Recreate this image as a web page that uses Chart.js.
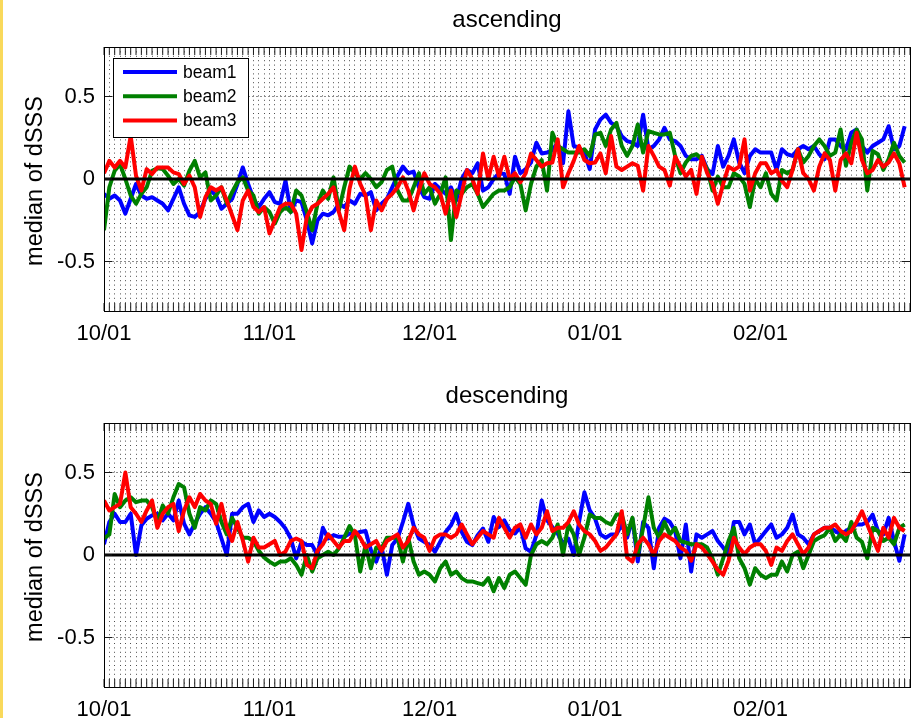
<!DOCTYPE html>
<html>
<head>
<meta charset="utf-8">
<script src="https://cdn.jsdelivr.net/npm/chart.js@4.4.0/dist/chart.umd.min.js"></script>
<style>
  html, body { margin: 0; padding: 0; background: #fff; }
  body { width: 912px; height: 718px; overflow: hidden; position: relative; }
  canvas { position: absolute; left: 0; }
  #ascCanvas { top: 0; }
  #descCanvas { top: 376px; }
  #strip { position: absolute; left: 0; top: 0; width: 3px; height: 718px; background: #f9d95b; }
</style>
</head>
<body>
<canvas id="ascCanvas" width="920" height="376"></canvas>
<canvas id="descCanvas" width="920" height="376"></canvas>
<div id="strip"></div>
<script>
// days counted from 10/01, axis runs to 03/01
const dayCount = 151;
const monthTicks = [0, 31, 61, 92, 123];
const monthLabels = ['10/01', '11/01', '12/01', '01/01', '02/01'];
const yTicks = [-0.5, 0, 0.5];
const seriesNames = ['beam1', 'beam2', 'beam3'];
const seriesColors = ['#0000ff', '#008000', '#ff0000'];

// ascending, daily median of dSSS
const ascBeam1 = [
  -0.09, -0.12, -0.10, -0.13, -0.21, -0.12, -0.03, -0.10, -0.12, -0.11,
  -0.13, -0.15, -0.19, -0.12, -0.05, -0.15, -0.22, -0.23, -0.20, -0.12,
  -0.07, -0.10, -0.18, -0.15, -0.12, -0.03, 0.07, -0.03, -0.12, -0.17,
  -0.12, -0.08, -0.14, -0.15, -0.01, -0.20, -0.13, -0.14, -0.25, -0.39,
  -0.25, -0.21, -0.22, -0.20, -0.15, -0.17, -0.13, -0.15, -0.09, -0.10,
  -0.08, -0.19, -0.15, -0.12, -0.05, 0.02, 0.075, 0.035, 0.045, -0.05,
  -0.11, -0.12, -0.03, -0.06, -0.09, -0.05, -0.13, 0.00, 0.055, 0.035,
  0.095, -0.07, -0.05, 0.00, 0.035, 0.03, -0.09, 0.135, 0.035, 0.06,
  0.10, 0.22, 0.155, 0.16, 0.175, 0.22, 0.095, 0.41, 0.20, 0.19,
  0.16, 0.06, 0.30, 0.36, 0.39, 0.34, 0.32, 0.26, 0.23, 0.22,
  0.20, 0.39, 0.18, 0.20, 0.24, 0.31, 0.24, 0.23, 0.20, 0.14,
  0.12, 0.12, 0.14, 0.06, 0.03, 0.20, 0.075, 0.14, 0.24, 0.10,
  0.035, 0.14, 0.18, 0.16, 0.16, 0.16, 0.055, 0.18, 0.15, 0.14,
  0.18, 0.20, 0.18, 0.20, 0.15, 0.12, 0.24, 0.24, 0.20, 0.18,
  0.28, 0.30, 0.20, 0.16, 0.20, 0.22, 0.24, 0.32, 0.18, 0.20, 0.32
];
const ascBeam2 = [
  -0.31, -0.05, 0.05, 0.09, 0.00, -0.10, -0.15, -0.09, -0.05, 0.05,
  0.065, 0.06, 0.02, -0.03, 0.00, -0.04, 0.05, 0.11, 0.01, 0.04,
  -0.13, -0.10, -0.05, -0.15, -0.08, -0.02, 0.01, -0.07, -0.10, -0.21,
  -0.17, -0.20, -0.27, -0.20, -0.17, -0.20, -0.07, -0.10, -0.20, -0.31,
  -0.15, -0.07, -0.12, 0.01, -0.19, -0.05, 0.075, 0.035, 0.00, 0.035,
  0.00, -0.05, -0.02, 0.055, 0.075, -0.07, -0.13, -0.13, -0.05, 0.035,
  -0.09, -0.05, -0.15, -0.09, 0.01, -0.37, -0.07, -0.09, -0.05, -0.03,
  -0.09, -0.17, -0.13, -0.09, -0.07, -0.07, -0.05, 0.01, -0.03, -0.19,
  -0.03, 0.075, 0.115, -0.07, 0.28, 0.20, 0.18, 0.16, 0.16, 0.16,
  0.18, 0.14, 0.27, 0.28, 0.20, 0.30, 0.34, 0.20, 0.14, 0.20,
  0.33, 0.16, 0.29, 0.28, 0.27, 0.27, 0.28, 0.14, 0.035, 0.10,
  0.14, 0.15, 0.12, 0.06, -0.07, 0.015, -0.05, -0.05, 0.035, 0.015,
  -0.03, -0.17, 0.00, -0.05, 0.035, -0.09, -0.13, 0.055, 0.035, 0.055,
  0.18, 0.10, 0.14, 0.20, 0.24, 0.20, 0.14, 0.16, 0.30, 0.08,
  0.22, 0.30, 0.24, -0.07, 0.17, 0.15, 0.055, 0.12, 0.22, 0.14, 0.10
];
const ascBeam3 = [
  0.035, 0.11, 0.07, 0.11, 0.07, 0.26, 0.02, -0.07, 0.06, 0.03,
  0.07, 0.07, 0.07, 0.04, 0.03, -0.03, 0.02, -0.05, -0.23, -0.11,
  -0.05, -0.07, -0.05, -0.13, -0.22, -0.31, -0.13, -0.07, -0.17, -0.20,
  -0.17, -0.33, -0.25, -0.17, -0.15, -0.15, -0.21, -0.43, -0.23, -0.17,
  -0.15, -0.12, -0.09, -0.05, -0.20, -0.31, -0.06, 0.075, -0.03, -0.10,
  -0.31, -0.13, -0.19, -0.12, -0.09, -0.05, 0.01, -0.07, -0.19, -0.07,
  0.035, -0.03, -0.05, -0.09, -0.21, -0.07, -0.23, -0.09, 0.055, 0.00,
  -0.09, 0.155, 0.00, 0.135, 0.015, 0.135, 0.00, 0.035, -0.02, 0.035,
  0.155, 0.115, 0.075, 0.095, 0.10, 0.24, -0.05, 0.035, 0.11, 0.20,
  0.115, 0.095, 0.10, 0.155, 0.035, 0.26, 0.075, 0.055, 0.075, 0.095,
  0.08, -0.07, 0.20, 0.14, 0.075, 0.055, -0.04, 0.135, 0.075, 0.015,
  0.055, -0.09, 0.135, 0.035, -0.03, -0.15, -0.03, 0.075, 0.055, 0.075,
  0.24, -0.07, 0.035, 0.095, 0.095, 0.035, 0.055, -0.01, -0.05, 0.055,
  0.18, 0.035, 0.00, -0.07, 0.075, 0.155, 0.115, -0.07, 0.115, 0.155,
  0.095, 0.28, 0.115, 0.035, 0.055, 0.115, 0.075, 0.10, 0.155, 0.095, -0.05
];

// descending
const descBeam1 = [
  0.065, 0.20, 0.25, 0.20, 0.20, 0.25, 0.00, 0.18, 0.22, 0.24,
  0.25, 0.21, 0.25, 0.21, 0.33, 0.19, 0.125, 0.19, 0.25, 0.29,
  0.25, 0.20, 0.10, 0.00, 0.25, 0.25, 0.29, 0.31, 0.20, 0.27,
  0.23, 0.25, 0.23, 0.20, 0.16, 0.10, -0.02, 0.08, 0.06, 0.06,
  0.00, 0.165, 0.10, 0.12, 0.11, 0.11, 0.13, 0.13, 0.14, 0.145,
  0.03, -0.04, 0.05, -0.12, 0.06, 0.10, 0.20, 0.31, 0.18, 0.10,
  0.08, 0.06, 0.02, 0.08, 0.14, 0.18, 0.25, 0.14, 0.08, 0.06,
  0.12, 0.16, 0.08, 0.23, 0.17, 0.21, 0.15, 0.13, 0.17, 0.04,
  0.02, 0.12, 0.33, 0.21, 0.17, 0.13, 0.07, 0.10, 0.00, 0.20,
  0.38, 0.27, 0.22, 0.125, 0.105, 0.125, 0.125, 0.185, 0.105, 0.22,
  -0.04, 0.20, 0.165, -0.08, 0.165, 0.22, 0.20, 0.145, -0.02, 0.185,
  -0.10, 0.125, 0.105, 0.125, 0.145, 0.085, 0.045, 0.00, 0.20, 0.20,
  0.125, 0.185, 0.065, 0.105, 0.145, 0.185, 0.105, 0.125, 0.165, 0.245,
  0.125, 0.105, 0.065, 0.125, 0.145, 0.165, 0.165, 0.145, 0.125, 0.145,
  0.165, 0.185, 0.185, 0.20, 0.245, 0.145, 0.125, 0.225, 0.085, -0.035, 0.125
];
const descBeam2 = [
  0.10, 0.125, 0.37, 0.29, 0.33, 0.35, 0.32, 0.33, 0.33, 0.29,
  0.20, 0.30, 0.25, 0.35, 0.43, 0.41, 0.25, 0.165, 0.29, 0.27,
  0.33, 0.31, 0.20, 0.125, 0.225, 0.165, 0.105, 0.105, 0.085, 0.025,
  -0.015, -0.04, -0.06, -0.04, -0.04, -0.02, -0.06, -0.12, 0.00, -0.10,
  -0.02, 0.00, 0.02, 0.00, 0.04, 0.105, 0.175, 0.12, -0.10, 0.06,
  -0.08, 0.045, 0.04, 0.105, 0.105, 0.105, -0.04, 0.105, -0.04, -0.12,
  -0.10, -0.12, -0.16, -0.08, -0.04, -0.12, -0.10, -0.14, -0.16, -0.16,
  -0.17, -0.18, -0.14, -0.22, -0.14, -0.20, -0.12, -0.10, -0.14, -0.18,
  0.00, 0.065, 0.085, 0.065, 0.105, 0.185, 0.00, 0.185, 0.125, 0.00,
  0.105, 0.245, 0.225, 0.225, 0.20, 0.185, 0.245, 0.245, 0.125, 0.225,
  0.00, 0.165, 0.35, 0.165, 0.105, 0.20, 0.125, 0.165, 0.085, 0.075,
  0.065, 0.065, 0.065, 0.045, -0.02, -0.12, -0.02, 0.085, 0.165, -0.02,
  -0.08, -0.18, -0.08, -0.12, -0.14, -0.12, -0.12, -0.04, -0.10, 0.00,
  0.02, -0.08, 0.00, 0.085, 0.105, 0.12, 0.165, 0.085, 0.125, 0.085,
  0.20, 0.105, 0.08, -0.02, 0.165, 0.145, 0.085, 0.105, 0.065, 0.165, 0.185
];
const descBeam3 = [
  0.33, 0.27, 0.29, 0.31, 0.50, 0.29, 0.25, 0.20, 0.27, 0.33,
  0.165, 0.25, 0.29, 0.31, 0.145, 0.27, 0.35, 0.29, 0.37, 0.33,
  0.31, 0.19, 0.31, 0.165, 0.085, 0.20, 0.09, -0.04, 0.105, 0.045,
  0.045, 0.065, 0.085, 0.00, 0.02, 0.085, 0.10, 0.085, -0.06, -0.08,
  0.025, 0.065, 0.125, 0.085, 0.045, 0.085, 0.085, 0.145, 0.105, 0.045,
  0.065, 0.085, 0.025, 0.085, 0.105, 0.125, 0.045, 0.085, 0.165, 0.125,
  0.105, 0.025, 0.105, 0.125, 0.125, 0.105, 0.125, 0.185, 0.125, 0.065,
  0.105, 0.145, 0.125, 0.105, 0.225, 0.165, 0.105, 0.165, 0.185, 0.105,
  0.185, 0.125, 0.165, 0.265, 0.145, 0.165, 0.165, 0.20, 0.265, 0.185,
  0.145, 0.125, 0.085, 0.025, 0.045, 0.085, 0.125, 0.265, -0.015, -0.04,
  0.065, 0.105, 0.065, 0.00, 0.085, 0.125, 0.105, 0.085, 0.045, 0.025,
  -0.035, 0.065, 0.045, 0.005, -0.04, -0.09, -0.12, -0.035, 0.105, 0.045,
  0.005, 0.045, 0.065, 0.065, 0.025, -0.06, 0.045, 0.025, 0.085, 0.125,
  0.065, 0.005, 0.045, 0.125, 0.145, 0.165, 0.165, 0.185, 0.145, 0.125,
  0.145, 0.20, 0.265, 0.185, 0.105, 0.025, 0.165, 0.105, 0.225, 0.165, 0.145
];

const FONT = "'Liberation Sans', Arial, sans-serif";

function toPoints(values) {
  return values.map((v, i) => ({ x: i, y: v }));
}

// axes box, inward ticks, title, y label and legend drawn after the data
const framePlugin = {
  id: 'frame',
  afterDraw(chart, args, opts) {
    const ctx = chart.ctx;
    const { left, right, top, bottom } = chart.chartArea;
    const xs = chart.scales.x;
    const ys = chart.scales.y;
    ctx.save();

    ctx.strokeStyle = '#1a1a1a';
    ctx.lineWidth = 1;
    ctx.beginPath();
    for (let d = 0; d <= dayCount; d++) {
      const px = xs.getPixelForValue(d);
      ctx.moveTo(px, bottom);
      ctx.lineTo(px, bottom - 8);
      ctx.moveTo(px, top);
      ctx.lineTo(px, top + 8);
    }
    yTicks.forEach(v => {
      const py = ys.getPixelForValue(v);
      ctx.moveTo(left, py);
      ctx.lineTo(left + 8, py);
      ctx.moveTo(right, py);
      ctx.lineTo(right - 8, py);
    });
    ctx.stroke();

    ctx.strokeStyle = '#000';
    ctx.strokeRect(left + 0.5, top + 0.5, right - left, bottom - top);

    ctx.fillStyle = '#000';
    ctx.font = '24px ' + FONT;
    ctx.textAlign = 'center';
    ctx.textBaseline = 'alphabetic';
    ctx.fillText(opts.title, (left + right) / 2, top - 20);

    ctx.save();
    ctx.font = '23.5px ' + FONT;
    ctx.translate(42, (top + bottom) / 2 + 2);
    ctx.rotate(-Math.PI / 2);
    ctx.fillText(opts.yLabel, 0, 0);
    ctx.restore();

    if (opts.legend) {
      const items = chart.data.datasets.filter(ds => ds.inLegend);
      const bx = left + 9, by = top + 11;
      ctx.fillStyle = '#fff';
      ctx.fillRect(bx, by, 135, 79);
      ctx.strokeStyle = '#000';
      ctx.lineWidth = 1;
      ctx.strokeRect(bx + 0.5, by + 0.5, 135, 79);
      ctx.font = '17.5px ' + FONT;
      ctx.textAlign = 'left';
      ctx.textBaseline = 'middle';
      items.forEach((ds, k) => {
        const ly = by + 14 + k * 24.3;
        ctx.strokeStyle = ds.borderColor;
        ctx.lineWidth = 4;
        ctx.beginPath();
        ctx.moveTo(bx + 10, ly);
        ctx.lineTo(bx + 64, ly);
        ctx.stroke();
        ctx.fillStyle = '#000';
        ctx.fillText(ds.label, bx + 70, ly + 1);
      });
    }
    ctx.restore();
  }
};

function makeChart(canvasId, title, b1, b2, b3, showLegend) {
  const datasets = [b1, b2, b3].map((vals, k) => ({
    label: seriesNames[k],
    data: toPoints(vals),
    borderColor: seriesColors[k],
    borderWidth: 4,
    borderJoinStyle: 'round',
    pointRadius: 0,
    tension: 0,
    order: 3 - k,
    inLegend: true
  }));
  datasets.push({
    label: 'zero',
    data: [{ x: 0, y: 0 }, { x: dayCount, y: 0 }],
    borderColor: '#000',
    borderWidth: 3,
    pointRadius: 0,
    order: 0
  });

  return new Chart(document.getElementById(canvasId), {
    type: 'line',
    data: { datasets },
    options: {
      responsive: false,
      animation: false,
      events: [],
      layout: { padding: { top: 47, right: 6, left: 0, bottom: 0 } },
      scales: {
        x: {
          type: 'linear',
          min: 0,
          max: dayCount,
          afterBuildTicks: s => {
            s.ticks = Array.from({ length: dayCount + 1 }, (_, d) => ({ value: d }));
          },
          afterFit: s => { s.height = 65; },
          ticks: {
            autoSkip: false,
            maxRotation: 0,
            minRotation: 0,
            padding: 10,
            color: '#000',
            font: { family: FONT, size: 22 },
            callback: v => {
              const i = monthTicks.indexOf(v);
              return i >= 0 ? monthLabels[i] : '';
            }
          },
          grid: { color: 'rgba(0,0,0,0.7)', lineWidth: 1, drawTicks: false },
          border: { display: false, dash: [1, 3.4] }
        },
        y: {
          min: -0.8,
          max: 0.8,
          afterBuildTicks: s => { s.ticks = yTicks.map(v => ({ value: v })); },
          afterFit: s => { s.width = 104; },
          ticks: {
            padding: 9,
            color: '#000',
            font: { family: FONT, size: 22 },
            callback: v => String(v)
          },
          grid: { color: '#8c8c8c', lineWidth: 1, drawTicks: false },
          border: { display: false, dash: [2, 2] }
        }
      },
      plugins: {
        legend: { display: false },
        tooltip: { enabled: false },
        frame: { title: title, yLabel: 'median of dSSS', legend: showLegend }
      }
    },
    plugins: [framePlugin]
  });
}

makeChart('ascCanvas', 'ascending', ascBeam1, ascBeam2, ascBeam3, true);
makeChart('descCanvas', 'descending', descBeam1, descBeam2, descBeam3, false);
</script>
</body>
</html>
